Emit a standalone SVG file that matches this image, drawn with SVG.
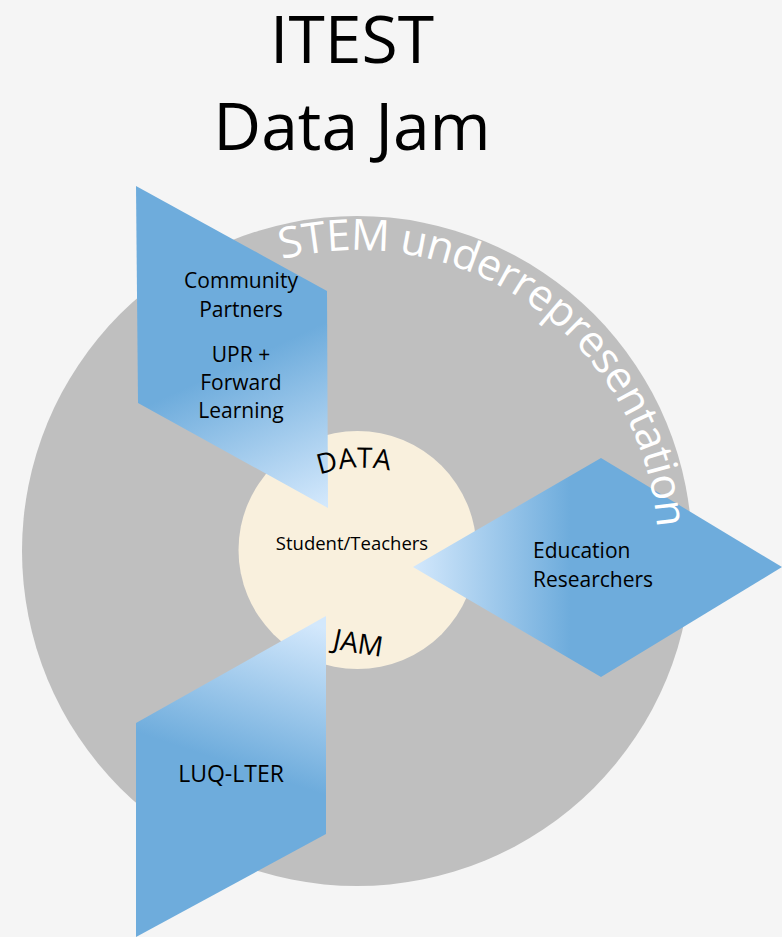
<svg xmlns="http://www.w3.org/2000/svg" width="782" height="937" viewBox="0 0 782 937">
  <defs>
    <style>
      .t { font-family: "Open Sans", "Noto Sans", "DejaVu Sans", sans-serif; fill: #000; }
      .lbl { font-size: 21px; text-anchor: middle; }
      .arc { font-size: 43px; fill: #ffffff; font-weight: 400; }
      .dj { font-size: 28px; }
    </style>
    <linearGradient id="gTop" gradientUnits="userSpaceOnUse" x1="245" y1="360" x2="315" y2="510">
      <stop offset="0" stop-color="#6EACDC"/>
      <stop offset="1" stop-color="#D3E8FC"/>
    </linearGradient>
    <linearGradient id="gBot" gradientUnits="userSpaceOnUse" x1="315" y1="625" x2="265" y2="775">
      <stop offset="0" stop-color="#D3E8FC"/>
      <stop offset="1" stop-color="#6EACDC"/>
    </linearGradient>
    <linearGradient id="gRight" gradientUnits="userSpaceOnUse" x1="413" y1="0" x2="570" y2="0">
      <stop offset="0" stop-color="#D3E8FC"/>
      <stop offset="1" stop-color="#6EACDC"/>
    </linearGradient>
    <path id="stemArc" d="M 282,259.5 A 301 301 0 0 1 657.3,532" fill="none"/>
    <path id="dataArc" d="M 290,490 A 127 127 0 0 1 434,490" fill="none"/>
    <path id="jamArc" d="M 300,640 Q 357,656 414,660" fill="none"/>
  </defs>
  <rect width="782" height="937" fill="#F5F5F5"/>

  <g id="title">
    <text class="t" x="352" y="63" font-size="66" text-anchor="middle">ITEST</text>
    <text class="t" x="352" y="150" font-size="66" text-anchor="middle">Data Jam</text>
  </g>

  <g id="outer-circle">
    <circle cx="357" cy="551" r="335" fill="#BFBFBF"/>
  </g>

  <g id="inner-circle">
    <circle cx="357.5" cy="550" r="119" fill="#F9F0DD"/>
    <text class="t" x="352" y="550" font-size="18.5" text-anchor="middle">Student/Teachers</text>
  </g>

  <g id="connectors">
    <g id="community-partners">
      <polygon points="136,186 327,291 328,508 138,403" fill="url(#gTop)"/>
      <text class="t lbl" x="241" y="288">Community</text>
      <text class="t lbl" x="241" y="317">Partners</text>
      <text class="t lbl" x="241" y="362">UPR +</text>
      <text class="t lbl" x="241" y="390">Forward</text>
      <text class="t lbl" x="241" y="418">Learning</text>
    </g>
    <g id="education-researchers">
      <polygon points="413,567 601,458 782,567 601,677" fill="url(#gRight)"/>
      <text class="t" x="533" y="558" font-size="21">Education</text>
      <text class="t" x="533" y="587" font-size="21">Researchers</text>
    </g>
    <g id="luq-lter">
      <polygon points="326,616 326,834 136,937 136,723" fill="url(#gBot)"/>
      <text class="t" x="231" y="782" font-size="23" text-anchor="middle">LUQ-LTER</text>
    </g>
  </g>

  <g id="stem-label">
    <text class="t arc"><textPath href="#stemArc" textLength="525" lengthAdjust="spacing">STEM underrepresentation</textPath></text>
  </g>

  <g id="data-jam-labels">
    <text class="t dj"><textPath href="#dataArc" startOffset="45%" text-anchor="middle">DATA</textPath></text>
    <text class="t dj"><textPath href="#jamArc" startOffset="50%" text-anchor="middle">JAM</textPath></text>
  </g>
</svg>
